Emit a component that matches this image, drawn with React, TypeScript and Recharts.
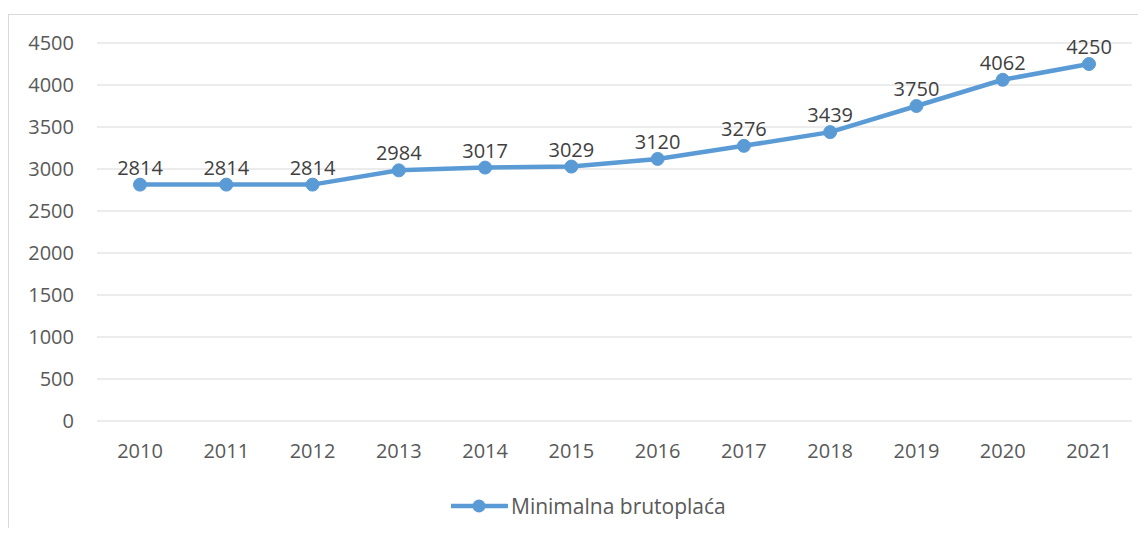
import React from "react";
import { LineChart, Line, XAxis, YAxis, CartesianGrid, Legend, LabelList } from "recharts";

const years = ["2010", "2011", "2012", "2013", "2014", "2015", "2016", "2017", "2018", "2019", "2020", "2021"];
const wages = [2814, 2814, 2814, 2984, 3017, 3029, 3120, 3276, 3439, 3750, 4062, 4250];
const yTicks = [0, 500, 1000, 1500, 2000, 2500, 3000, 3500, 4000, 4500];
const seriesName = "Minimalna brutoplaća";

const data = years.map((y, i) => ({ year: y, value: wages[i] }));

const FONT = "'Open Sans', 'Noto Sans', sans-serif";
const BLUE = "#5b9bd5";

const renderLegend = () => (
  <div style={{ display: "flex", alignItems: "center", height: 30, paddingLeft: 442, fontFamily: FONT }}>
    <svg width={57} height={30}>
      <line x1={0} y1={15} x2={56} y2={15} stroke={BLUE} strokeWidth={4.5} strokeLinecap="round" />
      <circle cx={28} cy={15} r={6.5} fill={BLUE} />
    </svg>
    <span style={{ marginLeft: 3, fontSize: 21, color: "#595959", lineHeight: "30px" }}>{seriesName}</span>
  </div>
);

export default function App() {
  return (
    <div style={{ paddingTop: 6 }}>
      <div
        style={{
          width: 1130,
          height: 514,
          boxSizing: "border-box",
          borderLeft: "1px solid #d9d9d9",
          borderTop: "1px solid #d9d9d9",
          background: "#fff",
        }}
      >
        <LineChart width={1129} height={513} data={data} margin={{ top: 28, right: 6, left: 0, bottom: 7 }}>
          <CartesianGrid vertical={false} stroke="#d9d9d9" strokeWidth={1} />
          <XAxis
            dataKey="year"
            axisLine={false}
            tickLine={false}
            tickSize={0}
            tickMargin={23}
            height={70}
            interval={0}
            padding={{ left: 43, right: 43 }}
            tick={{ fill: "#595959", fontSize: 20, fontFamily: FONT }}
          />
          <YAxis
            domain={[0, 4500]}
            ticks={yTicks}
            axisLine={false}
            tickLine={false}
            tickSize={0}
            tickMargin={23}
            width={88}
            interval={0}
            tick={{ fill: "#595959", fontSize: 20, fontFamily: FONT }}
          />
          <Legend verticalAlign="bottom" height={30} content={renderLegend} />
          <Line
            type="linear"
            dataKey="value"
            name={seriesName}
            stroke={BLUE}
            strokeWidth={4.5}
            dot={{ r: 6.5, fill: BLUE, stroke: BLUE, strokeWidth: 1 }}
            isAnimationActive={false}
          >
            <LabelList
              dataKey="value"
              position="top"
              offset={10}
              style={{ fill: "#404040", fontSize: 20, fontFamily: FONT }}
            />
          </Line>
        </LineChart>
      </div>
    </div>
  );
}
